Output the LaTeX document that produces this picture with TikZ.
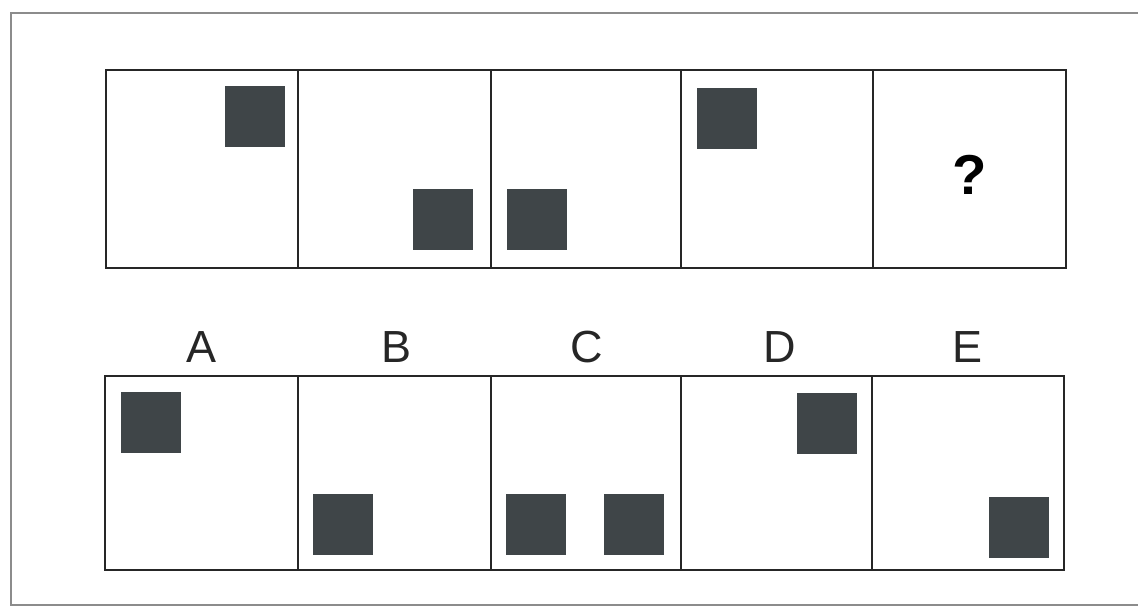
\documentclass[tikz,border=0pt]{standalone}
\usepackage{fontspec}
\setmainfont{Liberation Sans}

\definecolor{blkcol}{HTML}{3F4548}
\definecolor{framecol}{HTML}{8C8C8C}

\newcommand{\blk}[2]{%
    \fill[blkcol] (#1,#2) rectangle ++(60,61);
}

\begin{document}
\begin{tikzpicture}[x=0.025cm, y=-0.025cm,
    cell/.style={draw=black!85, line width=1.6pt},
    lbl/.style={font=\fontsize{32}{38}\selectfont, text=black!85}]
    \useasboundingbox (0,0) rectangle (1138,608);
    % outer frame
    \draw[framecol, line width=1.1pt] (1138,13) -- (11,13) -- (11,605) -- (1138,605);
    % top row
    \blk{225}{86}
    \blk{413}{189}
    \blk{507}{189}
    \blk{697}{88}
    \foreach \x/\xx in {106/298, 298/491, 491/681, 681/873, 873/1066} {
        \draw[cell] (\x,70) rectangle (\xx,268);
    }
    \node (q) at (970,175) {\fontsize{40}{46}\selectfont\bfseries ?};
    % answers
    \blk{121}{392}
    \blk{313}{494}
    \blk{506}{494}
    \blk{604}{494}
    \blk{797}{393}
    \blk{989}{497}
    \foreach \x/\xx in {105/298, 298/491, 491/681, 681/872, 872/1064} {
        \draw[cell] (\x,376) rectangle (\xx,570);
    }
    \node[lbl] (la) at (202,347) {A};
    \node[lbl] (lb) at (397,347) {B};
    \node[lbl] (lc) at (587,347) {C};
    \node[lbl] (ld) at (780,347) {D};
    \node[lbl] (le) at (967,347) {E};
\end{tikzpicture}
\end{document}
